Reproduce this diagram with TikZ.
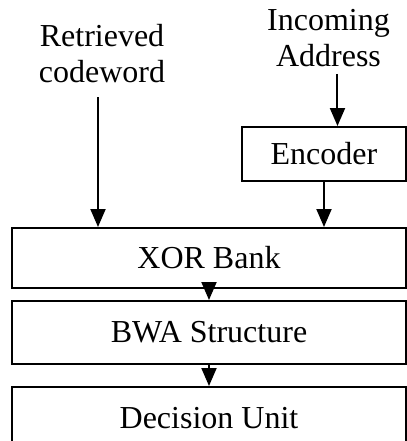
\documentclass[tikz,border=0pt]{standalone}
\usepackage{fontspec}
\setmainfont{Liberation Serif}
\usetikzlibrary{arrows.meta, positioning}

\begin{document}
\begin{tikzpicture}[
    box/.style={draw, line width=1pt, minimum width=197pt, minimum height=30pt, align=center, font=\fontsize{16}{18}\selectfont},
    lbl/.style={align=center, font=\fontsize{16}{18}\selectfont},
    arrow/.style={-{Triangle[length=9pt, width=7.5pt]}, line width=1pt}
]
    \useasboundingbox (0,0) rectangle (203.5pt,220.5pt);
    \node[box] (xor) at (104.5pt,91.5pt) {XOR Bank};
    \node[box, below=5.5pt of xor, minimum height=31.5pt] (bwa) {BWA Structure};
    \node[box, below=10.5pt of bwa, minimum height=31pt] (dec) {Decision Unit};
    \node[box, minimum width=82pt, minimum height=27pt, above left=22.5pt and 0pt of xor.north east] (enc) {Encoder};

    \node[lbl] (ret) at (51pt,193.7pt) {Retrieved\\codeword};
    \node[lbl] (inc) at (164.25pt,201.5pt) {Incoming\\Address};

    \draw[arrow, shorten <=3.7pt] ([xshift=-2pt]ret.south) -- ([xshift=-2pt]ret.south |- xor.north);
    \draw[arrow] ([xshift=4.5pt]inc.south) -- ([xshift=4.5pt]inc.south |- enc.north);
    \draw[arrow] (enc.south) -- (enc.south |- xor.north);
    \draw[arrow] (xor) -- (bwa);
    \draw[arrow] (bwa) -- (dec);
\end{tikzpicture}
\end{document}
